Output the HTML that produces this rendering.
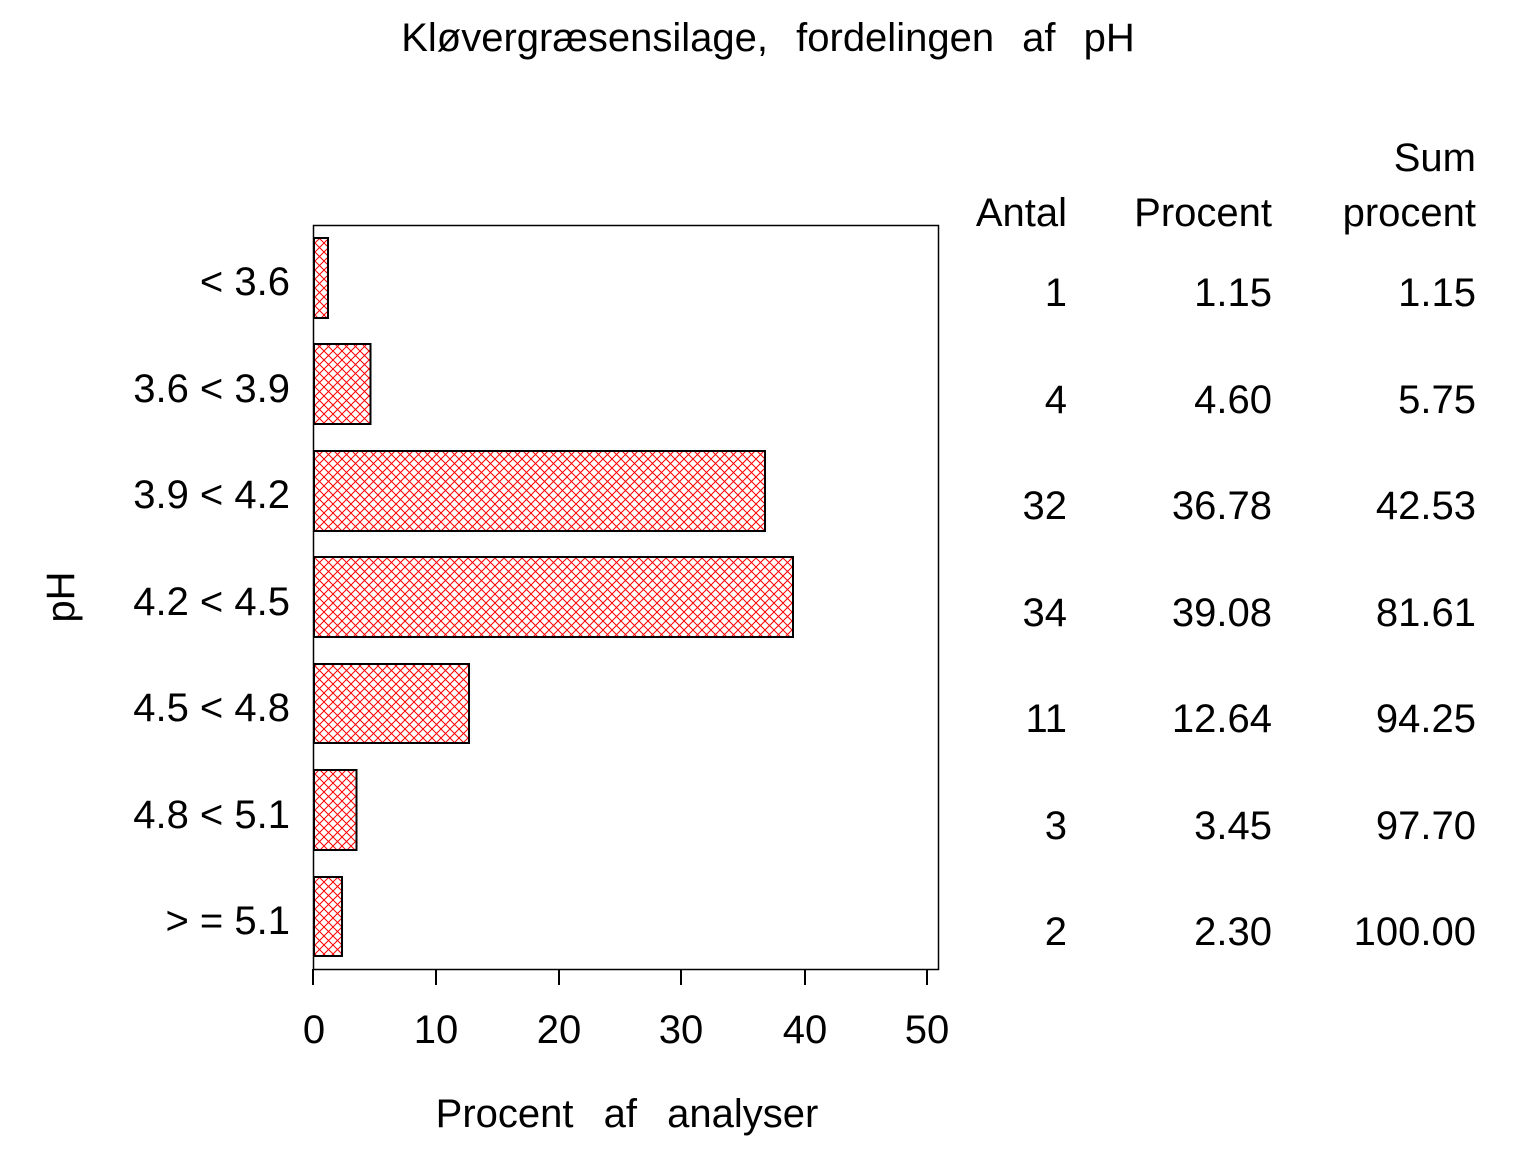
<!DOCTYPE html>
<html><head><style>body{margin:0;background:#fff}svg{display:block}</style></head><body>
<svg width="1536" height="1152" xmlns="http://www.w3.org/2000/svg" font-family="Liberation Sans, sans-serif">
<defs>
<pattern id="h" width="9" height="9" patternUnits="userSpaceOnUse">
<path d="M0,0L9,9M9,0L0,9" stroke="#f00" stroke-width="1"/>
</pattern>
</defs>
<rect width="1536" height="1152" fill="#fff"/>
<text x="768" y="51" font-size="40" text-anchor="middle" word-spacing="17">Kløvergræsensilage, fordelingen af pH</text>
<rect x="313.5" y="225.5" width="625" height="744" fill="none" stroke="#000" stroke-width="1.5"/>
<g stroke="#000" stroke-width="2">
<line x1="313" y1="969" x2="313" y2="985"/><line x1="436" y1="969" x2="436" y2="985"/><line x1="559" y1="969" x2="559" y2="985"/><line x1="681" y1="969" x2="681" y2="985"/><line x1="805" y1="969" x2="805" y2="985"/><line x1="927" y1="969" x2="927" y2="985"/>
</g>
<g font-size="40" text-anchor="middle">
<text x="314" y="1043">0</text><text x="436" y="1043">10</text><text x="559" y="1043">20</text><text x="681" y="1043">30</text><text x="805" y="1043">40</text><text x="927" y="1043">50</text>
</g>
<text x="627" y="1127" font-size="40" text-anchor="middle" word-spacing="19">Procent af analyser</text>
<text transform="translate(74,597) rotate(-90)" font-size="40" text-anchor="middle">pH</text>
<g fill="url(#h)" stroke="#000" stroke-width="2">
<rect x="314" y="238" width="14" height="80"/>
<rect x="314" y="344" width="56.5" height="80"/>
<rect x="314" y="451" width="451" height="80"/>
<rect x="314" y="557" width="479" height="80"/>
<rect x="314" y="664" width="155" height="79"/>
<rect x="314" y="770" width="42.5" height="80"/>
<rect x="314" y="877" width="28" height="79"/>
</g>
<g font-size="40" text-anchor="end">
<text x="290" y="295">&lt; 3.6</text>
<text x="290" y="402">3.6 &lt; 3.9</text>
<text x="290" y="508">3.9 &lt; 4.2</text>
<text x="290" y="615">4.2 &lt; 4.5</text>
<text x="290" y="721">4.5 &lt; 4.8</text>
<text x="290" y="828">4.8 &lt; 5.1</text>
<text x="290" y="934">&gt; = 5.1</text>
</g>
<g font-size="40" text-anchor="end">
<text x="1067" y="226">Antal</text><text x="1272" y="226">Procent</text>
<text x="1476" y="171">Sum</text><text x="1476" y="226">procent</text>
<text x="1067" y="306">1</text><text x="1272" y="306">1.15</text><text x="1476" y="306">1.15</text>
<text x="1067" y="413">4</text><text x="1272" y="413">4.60</text><text x="1476" y="413">5.75</text>
<text x="1067" y="519">32</text><text x="1272" y="519">36.78</text><text x="1476" y="519">42.53</text>
<text x="1067" y="626">34</text><text x="1272" y="626">39.08</text><text x="1476" y="626">81.61</text>
<text x="1067" y="732">11</text><text x="1272" y="732">12.64</text><text x="1476" y="732">94.25</text>
<text x="1067" y="839">3</text><text x="1272" y="839">3.45</text><text x="1476" y="839">97.70</text>
<text x="1067" y="945">2</text><text x="1272" y="945">2.30</text><text x="1476" y="945">100.00</text>
</g>
</svg>
</body></html>
